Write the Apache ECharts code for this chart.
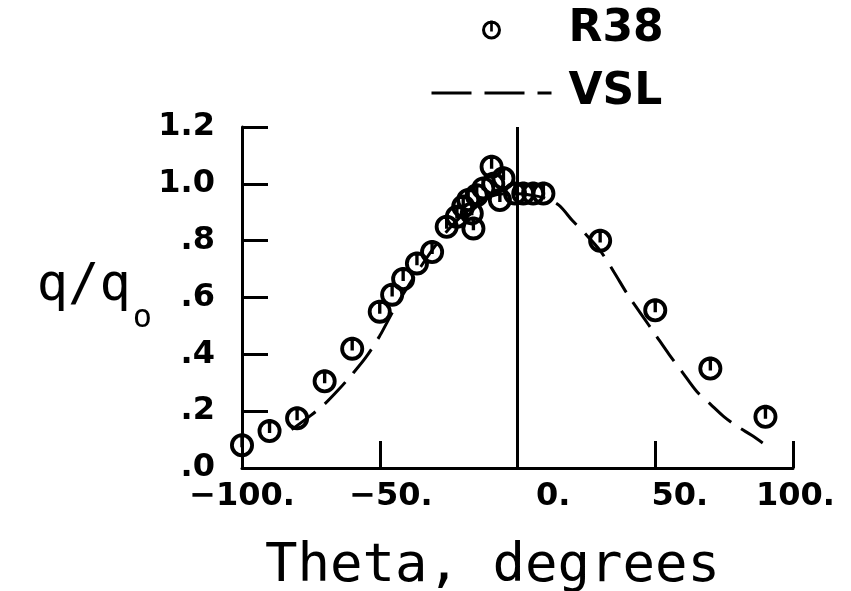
<!DOCTYPE html>
<html>
<head>
<meta charset="utf-8">
<script src="https://cdn.jsdelivr.net/npm/echarts@6/dist/echarts.min.js"></script>
<style>html,body{margin:0;padding:0;background:#fff}#c{width:851px;height:591px}</style>
</head>
<body>
<div id="c"></div>
<script>
// R38 measurements (theta in degrees, q/qo)
var r38Theta = [-100, -90, -80, -70, -60, -50, -45.5, -41.5, -36.5, -31, -25.7, -22, -19.7, -17.9, -16.6, -16, -14.8, -12.4, -9.4, -8.8, -6.4, -5.1, -0.9, 2.1, 5.7, 9.4, 30, 50, 70, 90];
var r38Q     = [0.08, 0.13, 0.175, 0.305, 0.42, 0.55, 0.61, 0.665, 0.72, 0.76, 0.849, 0.884, 0.92, 0.943, 0.896, 0.843, 0.96, 0.984, 1.06, 1.0, 0.943, 1.02, 0.966, 0.966, 0.966, 0.966, 0.80, 0.555, 0.35, 0.18];
// VSL prediction curve
var vslTheta = [-82, -75, -70, -65, -60, -55, -50, -45, -40, -35, -30, -25, -20, -15, -10, -5, 0, 5, 10, 15, 20, 25, 30, 35, 40, 45, 50, 55, 60, 65, 70, 75, 80, 85, 89];
var vslQ     = [0.135, 0.185, 0.225, 0.275, 0.33, 0.39, 0.465, 0.555, 0.635, 0.71, 0.78, 0.84, 0.89, 0.93, 0.955, 0.965, 0.965, 0.96, 0.95, 0.925, 0.87, 0.82, 0.765, 0.69, 0.61, 0.54, 0.47, 0.40, 0.335, 0.27, 0.225, 0.18, 0.145, 0.115, 0.088];
// axis ticks
var xTicks = [-100, -50, 0, 50, 100];
var xTickLabels = ['\u2212100.', '\u221250.', '0.', '50.', '100.'];
var yTicks = [0, 0.2, 0.4, 0.6, 0.8, 1.0, 1.2];
var yTickLabels = ['.0', '.2', '.4', '.6', '.8', '1.0', '1.2'];

var FONT = 'DejaVu Sans';
var MONO = 'DejaVu Sans Mono';
var W = 851, GRID_L = 242, GRID_R = 58, X_MIN = -100, X_MAX = 100;
var LABEL_SIZE = 32;

function lookupIdx(ticks, v) {
  for (var i = 0; i < ticks.length; i++) { if (Math.abs(ticks[i] - v) < 1e-6) return i; }
  return -1;
}
function zip(a, b) { return a.map(function (v, i) { return [v, b[i]]; }); }

// x labels are right-aligned a fixed distance right of their tick (plotter style)
var measureCtx = document.createElement('canvas').getContext('2d');
measureCtx.font = 'bold ' + LABEL_SIZE + 'px "' + FONT + '"';
var xRich = {};
xTickLabels.forEach(function (t, i) {
  var w = measureCtx.measureText(t).width;
  var tickPx = GRID_L + (xTicks[i] - X_MIN) / (X_MAX - X_MIN) * (W - GRID_L - GRID_R);
  var off = Math.min(53, (W - 16) - tickPx);      // distance from tick to text right edge
  var pad = Math.max(0, 2 * off - w);
  xRich['l' + i] = {fontFamily: FONT, fontSize: LABEL_SIZE, fontWeight: 'bold', color: '#000', padding: [0, 0, 0, pad]};
});

var markerPath = 'path://M50,0 A50,50 0 1,1 50,100 A50,50 0 1,1 50,0 Z M50,16 A34,34 0 1,0 50,84 A34,34 0 1,0 50,16 Z M43,0 L57,0 L57,58 L43,58 Z';

var chart = echarts.init(document.getElementById('c'), null, {renderer: 'canvas'});
chart.setOption({
  animation: false,
  backgroundColor: '#fff',
  textStyle: {fontFamily: FONT, color: '#000'},
  legend: {
    orient: 'vertical', left: 430, top: 8, padding: 0,
    itemWidth: 120, itemHeight: 19, itemGap: 19,
    textStyle: {fontFamily: FONT, fontSize: 44, fontWeight: 'bold', color: '#000', padding: [0, 0, 0, 12]},
    lineStyle: {width: 3, type: [40, 13]},
    data: [{name: 'R38'}, {name: 'VSL', itemStyle: {opacity: 0}}]
  },
  grid: {left: GRID_L, right: GRID_R, top: 127, bottom: 123, outerBoundsMode: 'none', containLabel: false},
  xAxis: {
    type: 'value', min: X_MIN, max: X_MAX, interval: 50,
    name: 'Theta, degrees', nameLocation: 'middle', nameGap: 72,
    nameTextStyle: {fontFamily: MONO, fontSize: 54, color: '#000', padding: [0, 50, 0, 0]},
    axisLine: {show: true, onZero: false, lineStyle: {color: '#000', width: 3}},
    axisTick: {show: true, inside: true, length: 27, lineStyle: {color: '#000', width: 3}},
    axisLabel: {margin: 13, fontSize: LABEL_SIZE, fontWeight: 'bold', color: '#000', fontFamily: FONT,
      rich: xRich,
      formatter: function (v) { var i = lookupIdx(xTicks, v); return i < 0 ? '' : '{l' + i + '|' + xTickLabels[i] + '}'; }},
    splitLine: {show: false}
  },
  yAxis: {
    type: 'value', min: 0, max: 1.2, interval: 0.2,
    name: '{a|q/q}{b|o}', nameLocation: 'middle', nameRotate: 0, nameGap: 90,
    nameTextStyle: {
      rich: {
        a: {fontFamily: MONO, fontSize: 52, color: '#000', padding: [0, 2, 22, 0]},
        b: {fontFamily: MONO, fontSize: 32, color: '#000', verticalAlign: 'bottom'}
      }
    },
    axisLine: {show: true, onZero: false, lineStyle: {color: '#000', width: 3}},
    axisTick: {show: true, inside: true, length: 26, lineStyle: {color: '#000', width: 3}},
    axisLabel: {margin: 27, fontSize: LABEL_SIZE, fontWeight: 'bold', color: '#000', fontFamily: FONT,
      formatter: function (v) { var i = lookupIdx(yTicks, v); return i < 0 ? '' : yTickLabels[i]; }},
    splitLine: {show: false}
  },
  series: [
    {
      name: 'VSL', type: 'line', data: zip(vslTheta, vslQ),
      symbol: 'none', smooth: 0.3, z: 2,
      lineStyle: {color: '#000', width: 3, type: [30, 12]},
      itemStyle: {color: '#000'}
    },
    {
      name: 'R38', type: 'scatter', data: zip(r38Theta, r38Q),
      symbol: markerPath, symbolSize: 24, z: 3,
      itemStyle: {color: '#000', opacity: 1},
      markLine: {
        silent: true, symbol: ['none', 'none'], animation: false,
        label: {show: false},
        lineStyle: {color: '#000', width: 3, type: 'solid'},
        data: [[{coord: [0, 0]}, {coord: [0, 1.2]}]]
      }
    }
  ]
});
</script>
</body>
</html>
